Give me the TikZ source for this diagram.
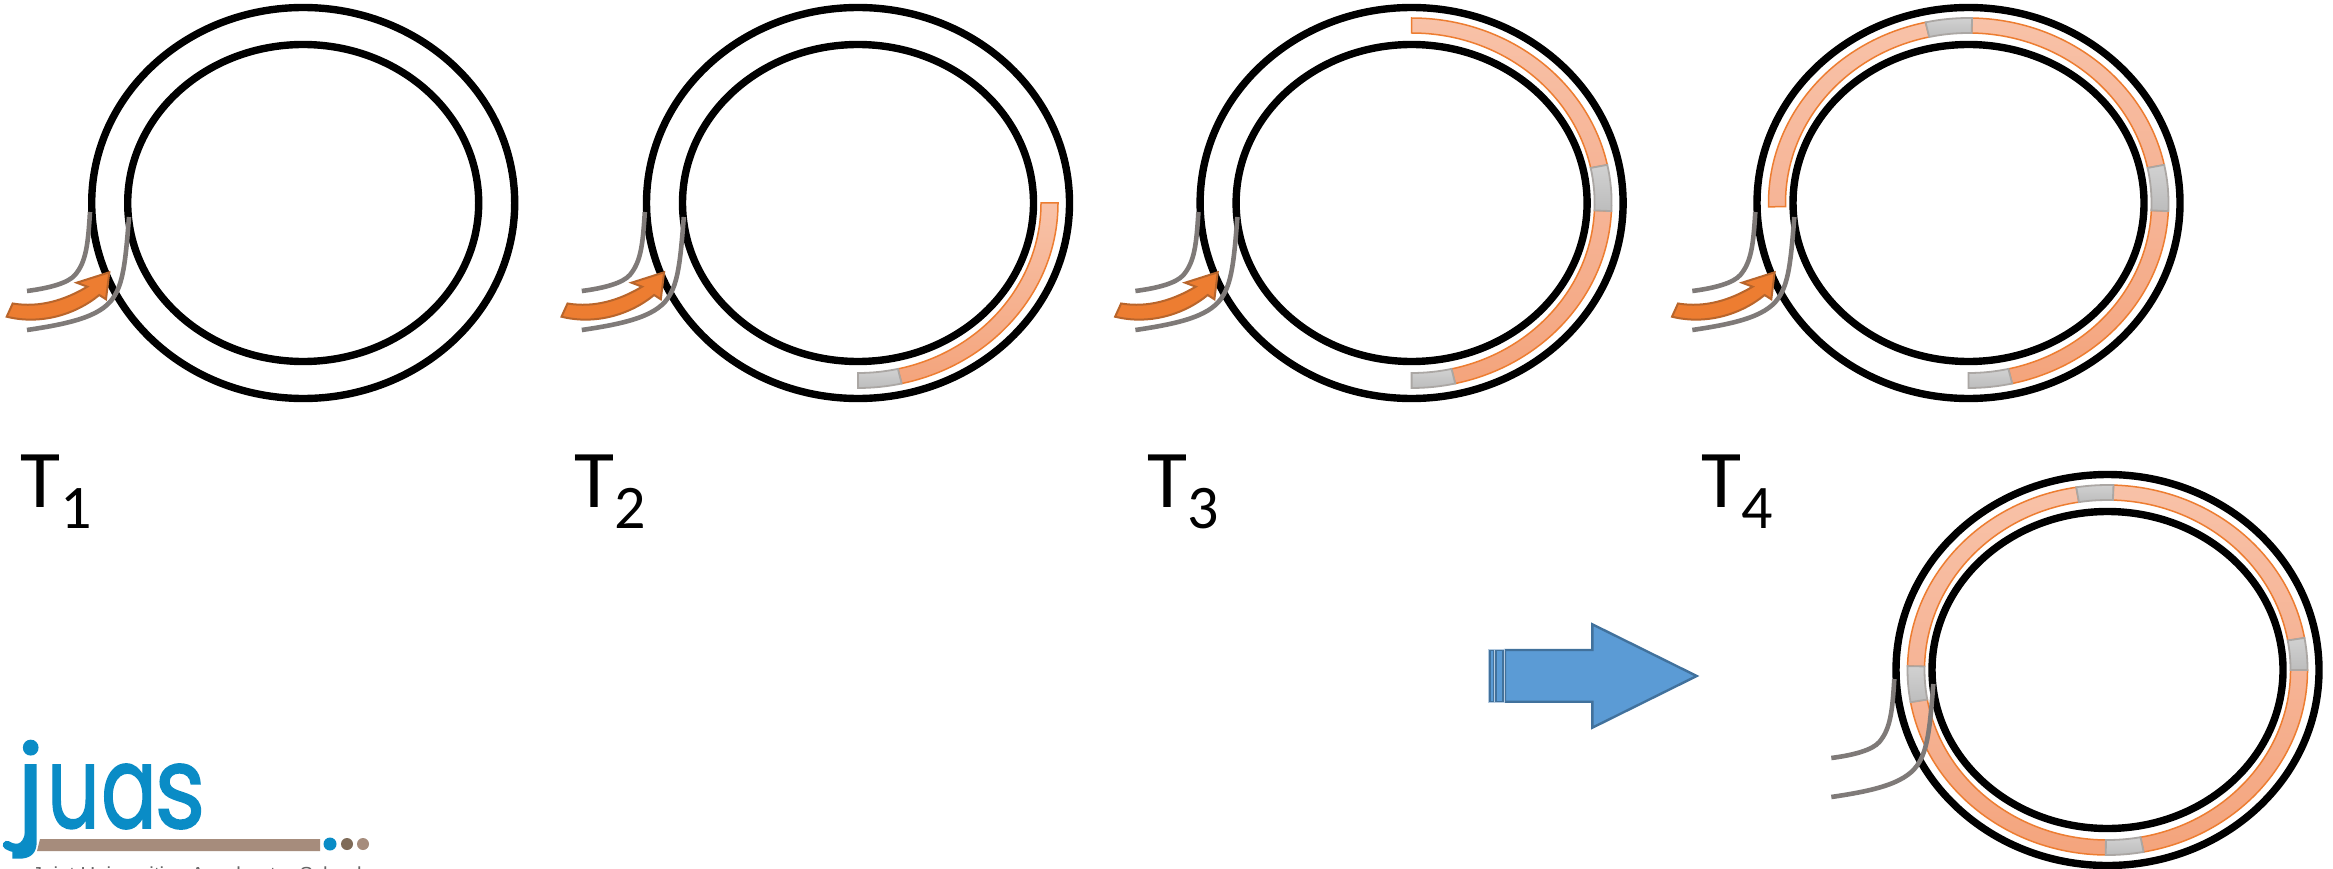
\documentclass[tikz,border=0pt]{standalone}
\usepackage{fontspec}
\setmainfont{Carlito}
\newfontfamily\logofont[FakeBold=1.4]{Poppins}
\newfontfamily\taglinefont{Liberation Sans}
\definecolor{ringgray}{HTML}{7F7A78}
\definecolor{segedge}{HTML}{ED7D31}
\definecolor{graybandedge}{HTML}{ABA7A4}
\definecolor{arrowfill}{HTML}{ED7D31}
\definecolor{arrowedge}{HTML}{B9652B}
\definecolor{bluefill}{HTML}{5B9BD5}
\definecolor{blueedge}{HTML}{41719C}
\definecolor{bluelight}{HTML}{B5CBE0}
\definecolor{juasblue}{HTML}{0A8CC6}
\definecolor{juasbrown}{HTML}{A68C7C}
\definecolor{juasdark}{HTML}{7F6B58}
\definecolor{bandA}{HTML}{F8C2A8}
\definecolor{bandB}{HTML}{F6B496}
\definecolor{bandC}{HTML}{F4A47C}
\tikzset{
  ringline/.style={draw=black,line width=7.4pt},
  wireline/.style={draw=ringgray,line width=4.6pt},
  bandedge/.style={draw=segedge,line width=1.5pt},
  grayseg/.style={draw=graybandedge,line width=1.8pt,top color=black!18,bottom color=black!26},
  pulsearrow/.style={fill=arrowfill,draw=arrowedge,line width=2pt,line join=miter},
  tlabel/.style={inner sep=0pt,anchor=base west,font=\fontsize{82}{82}\selectfont},
  logoletter/.style={inner sep=0pt,anchor=base,text=juasblue,font=\logofont\fontsize{115}{115}\selectfont},
}
\newcommand{\bandpath}[2]{(#1:200pt and 185pt) arc[start angle=#1,end angle=#2,x radius=200pt,y radius=185pt] -- (#2:183pt and 170pt) arc[start angle=#2,end angle=#1,x radius=183pt,y radius=170pt] -- cycle}
\newcommand{\oseg}[4]{\shadedraw[bandedge,top color=#3,bottom color=#4] \bandpath{#1}{#2};}
\newcommand{\gseg}[2]{\shadedraw[grayseg] \bandpath{#1}{#2};}
\newcommand{\ringsat}[2]{%
  \draw[ringline] (#1,#2) ellipse[x radius=211.5pt,y radius=195.5pt];
  \draw[ringline] (#1,#2) ellipse[x radius=175.5pt,y radius=158.5pt];}
\newcommand{\wiresat}[2]{%
  \begin{scope}[shift={(#1-303.2,#2-203)}]
    \draw[wireline] (90,212) .. controls (88,245) and (86,262) .. (75,275) .. controls (68,283) and (50,288) .. (27,291);
    \draw[wireline] (129,217) .. controls (126,255) and (124,280) .. (115,295) .. controls (104,315) and (75,323) .. (27,330);
  \end{scope}}
\newcommand{\pulseat}[2]{%
  \begin{scope}[shift={(#1-303.2,#2-203)}]
    \draw[pulsearrow] (6.7,316.7) -- (12.7,303.5) .. controls (40,308) and (65,300) .. (87.3,286.7) -- (76.7,282.7) -- (109.3,272.3) -- (106,299.3) -- (99.3,295) .. controls (75,315) and (40,325) .. (6.7,316.7) -- cycle;
  \end{scope}}
\newcommand{\Tlab}[1]{T\raisebox{-21pt}{\fontsize{62}{62}\selectfont #1}}
\begin{document}
\begin{tikzpicture}[x=1pt,y=-1pt]
\useasboundingbox (0,0) rectangle (2333,869);
\clip (0,0) rectangle (2333,869);
\fill[white] (0,0) rectangle (2333,869);
% T1
\ringsat{303.2}{203}
\wiresat{303.2}{203}
\pulseat{303.2}{203}
% T2
\ringsat{858}{203}
\begin{scope}[shift={(858,203)}]
  \oseg{-77.4}{0}{bandA}{bandC}
  \gseg{-90}{-77.4}
\end{scope}
\wiresat{858}{203}
\pulseat{858}{203}
% T3
\ringsat{1411.6}{203}
\begin{scope}[shift={(1411.6,203)}]
  \oseg{-77.4}{-2.5}{bandB}{bandC}
  \oseg{11.9}{90}{bandA}{bandB}
  \gseg{-90}{-77.4}
  \gseg{-2.5}{11.9}
\end{scope}
\wiresat{1411.6}{203}
\pulseat{1411.6}{203}
% T4
\ringsat{1968.5}{203}
\begin{scope}[shift={(1968.5,203)}]
  \oseg{-77.4}{-2.5}{bandB}{bandC}
  \oseg{11.9}{89}{bandA}{bandB}
  \oseg{102.4}{181.2}{bandA}{bandB}
  \gseg{-90}{-77.4}
  \gseg{-2.5}{11.9}
  \gseg{89}{102.4}
\end{scope}
\wiresat{1968.5}{203}
\pulseat{1968.5}{203}
% final
\ringsat{2107.5}{670}
\begin{scope}[shift={(2107.5,670)}]
  \oseg{190}{269.5}{bandB}{bandC}
  \oseg{280.4}{360}{bandB}{bandC}
  \oseg{10}{88.3}{bandA}{bandB}
  \oseg{99}{178.8}{bandA}{bandB}
  \gseg{178.8}{190}
  \gseg{269.5}{280.4}
  \gseg{0}{10}
  \gseg{88.3}{99}
\end{scope}
\wiresat{2107.5}{670}
% labels
\node[tlabel] (t1) at (20,507) {\Tlab{1}};
\node[tlabel] (t2) at (574,507) {\Tlab{2}};
\node[tlabel] (t3) at (1147,507) {\Tlab{3}};
\node[tlabel] (t4) at (1701,507) {\Tlab{4}};
% block arrow
\fill[bluefill] (1505,650) -- (1592.3,650) -- (1592.3,624.3) -- (1696.7,676) -- (1592.3,727.7) -- (1592.3,701.7) -- (1505,701.7) -- cycle;
\draw[blueedge,line width=2.4pt,line join=miter] (1505,650) -- (1592.3,650) -- (1592.3,624.3) -- (1696.7,676) -- (1592.3,727.7) -- (1592.3,701.7) -- (1505,701.7) -- cycle;
\filldraw[fill=bluefill,draw=blueedge,line width=2pt] (1490,650) rectangle (1493.5,701.7);
\filldraw[fill=bluefill,draw=blueedge,line width=2pt] (1496,650) rectangle (1503,701.7);
\draw[bluelight,line width=.8pt] (1488.8,649) rectangle (1494.6,702.7);
\draw[bluelight,line width=.8pt] (1494.6,649) rectangle (1504.3,702.7);
% logo
\node[logoletter] (lj) at (30.5,828) {j};
\draw[juasblue,line width=8.5pt,line cap=round] (30,825) .. controls (30,845) and (20,853) .. (7,845);
\node[logoletter,xscale=.72] (lu) at (73.5,828) {u};
\node[logoletter,xscale=.72] (la) at (129,828) {a};
\node[logoletter,xscale=.85] (ls) at (180,828) {s};
\fill[juasbrown] (40,839) -- (320,839) -- (320,851) -- (37,851) -- cycle;
\fill[juasblue] (330,844) circle[radius=6.5pt];
\fill[juasdark] (347,844) circle[radius=6pt];
\fill[juasbrown] (363,844) circle[radius=6pt];
\node[inner sep=0pt,anchor=base west,text=black!60,font=\taglinefont\fontsize{20.3}{20.3}\selectfont] (tagline) at (32,881) {Joint Universities Accelerator School};
\end{tikzpicture}
\end{document}
